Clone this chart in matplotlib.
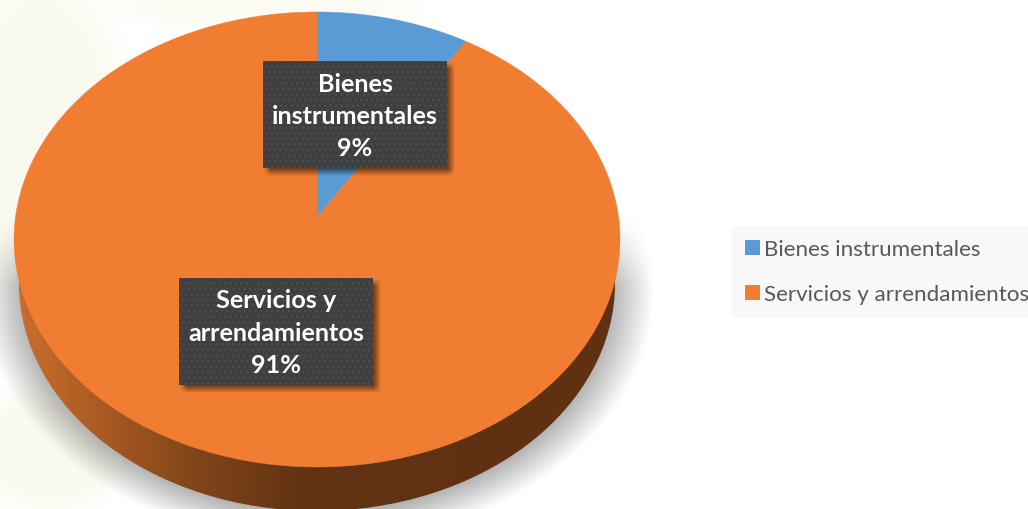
#!/usr/bin/env python3

import numpy as np
import matplotlib
matplotlib.use('Agg')
import matplotlib.pyplot as plt
from matplotlib.colors import LinearSegmentedColormap
from matplotlib.patches import Ellipse, Patch, PathPatch, Rectangle
from matplotlib.path import Path

categories = ['Bienes instrumentales', 'Servicios y arrendamientos']
label_lines = ['Bienes\ninstrumentales', 'Servicios y\narrendamientos']
values = [9, 91]
colors = ['#5b9bd5', '#f07d31']

W, H = 1028, 510
plt.rcParams['font.family'] = ['Lato', 'DejaVu Sans']


def project(u, v):
    # tilted disc: centre of the pie sits above the centre of the ellipse
    w = 1 + 0.0989 * v
    return 317 + 301.5 * u / w, 218 - 225.3 * v / w


def soft_box(ax, x0, y0, x1, y1, blur, alpha):
    # blurred grey rectangle, used as the shadow of the label boxes
    xx, yy = np.meshgrid(np.arange(x0 - 12, x1 + 12), np.arange(y0 - 12, y1 + 12))
    dx = np.clip(np.minimum(xx - x0, x1 - xx) / blur + 0.5, 0, 1)
    dy = np.clip(np.minimum(yy - y0, y1 - yy) / blur + 0.5, 0, 1)
    rgba = np.zeros(xx.shape + (4,))
    rgba[..., 3] = dx * dy * alpha
    ax.imshow(rgba, extent=(x0 - 12, x1 + 12, y1 + 12, y0 - 12), aspect='auto', zorder=5)


fig = plt.figure(figsize=(W / 100, H / 100), dpi=100)
ax = fig.add_axes([0, 0, 1, 1])

wedges, _ = ax.pie(values, startangle=90, counterclock=False, radius=1)
angles = [(w.theta1, w.theta2) for w in wedges]
for w in wedges:
    w.remove()
ax.set_aspect('auto')

xx, yy = np.meshgrid(np.arange(W), np.arange(H))

# pale watermark behind the chart
mark = np.zeros((H, W, 4))
mark[..., :3] = (0.93, 0.93, 0.78)
for x, y, rx, ry, a in [(40, 130, 100, 190, 0.28), (260, 8, 170, 28, 0.2),
                        (50, 450, 90, 70, 0.3), (330, 508, 120, 25, 0.3)]:
    d = np.sqrt(((xx - x) / rx) ** 2 + ((yy - y) / ry) ** 2)
    mark[..., 3] = np.maximum(mark[..., 3], np.clip((1 - d) / 0.4, 0, 1) * a)
ax.imshow(mark, extent=(0, W, H, 0), aspect='auto', zorder=0)

# drop shadow under the disc
r = np.sqrt(((xx - 317) / 336) ** 2 + ((yy - 292) / 252) ** 2)
shadow = np.zeros((H, W, 4))
shadow[..., :3] = 0.5
shadow[..., 3] = np.clip((1 - r) / 0.13, 0, 1) * np.clip((yy - 215) / 70, 0, 1) * 0.6
ax.imshow(shadow, extent=(0, W, H, 0), aspect='auto', zorder=1)

# side of the disc
side_cmap = LinearSegmentedColormap.from_list('side', [(0, '#c96d2d'), (0.14, '#a85a22'), (0.3, '#80441a'),
                                                       (0.48, '#613213'), (1, '#5f3012')])
side = ax.imshow(np.linspace(0, 1, 300)[None, :], cmap=side_cmap, extent=(19, 615, 515, 230),
                 aspect='auto', zorder=2)
rim = Ellipse((317, 284.5), 596, 455, fc='none', ec='none', transform=ax.transData)
ax.add_patch(rim)
side.set_clip_path(rim)

# top of the disc, wedges taken from the pie angles
for (a, b), c in zip(angles, colors):
    th = np.radians(np.linspace(a, b, 300))
    px, py = project(np.r_[0, np.cos(th), 0], np.r_[0, np.sin(th), 0])
    ax.add_patch(PathPatch(Path(np.c_[px, py]), fc=c, ec=c, lw=0.3, zorder=3))

# data labels
boxes = [(263, 62, 447, 169), (179, 279, 373, 386)]
for (x0, y0, x1, y1), lines, v in zip(boxes, label_lines, values):
    soft_box(ax, x0 + 4, y0 + 4, x1 + 4, y1 + 4, 7, 0.5)
    ax.add_patch(Rectangle((x0, y0), x1 - x0, y1 - y0, fc='#3f3f3f', ec='#4d4d4d', lw=0,
                           hatch='...', zorder=6))
    ax.text((x0 + x1) / 2, (y0 + y1) / 2 + 1, '{a}\n{b}%'.format(a=lines, b=v), color='white', fontsize=18.2,
            fontweight='bold', ha='center', va='center', linespacing=1.5, zorder=7)

handles = [Patch(fc=c, ec='none') for c in colors]
leg = ax.legend(handles, categories, loc='upper left', bbox_to_anchor=(732 / W, 1 - 227 / H), ncol=1,
                frameon=True, fancybox=False, facecolor='#f8f8f8', edgecolor='none', framealpha=1,
                fontsize=16.1, labelcolor='#595959', handlelength=0.63, handleheight=0.6,
                handletextpad=0.2, labelspacing=1.12, borderpad=0.6, borderaxespad=0)
leg.set_zorder(8)

ax.set_xlim(0, W)
ax.set_ylim(H, 0)
ax.axis('off')
fig.savefig('out.png', dpi=100, facecolor='white')
